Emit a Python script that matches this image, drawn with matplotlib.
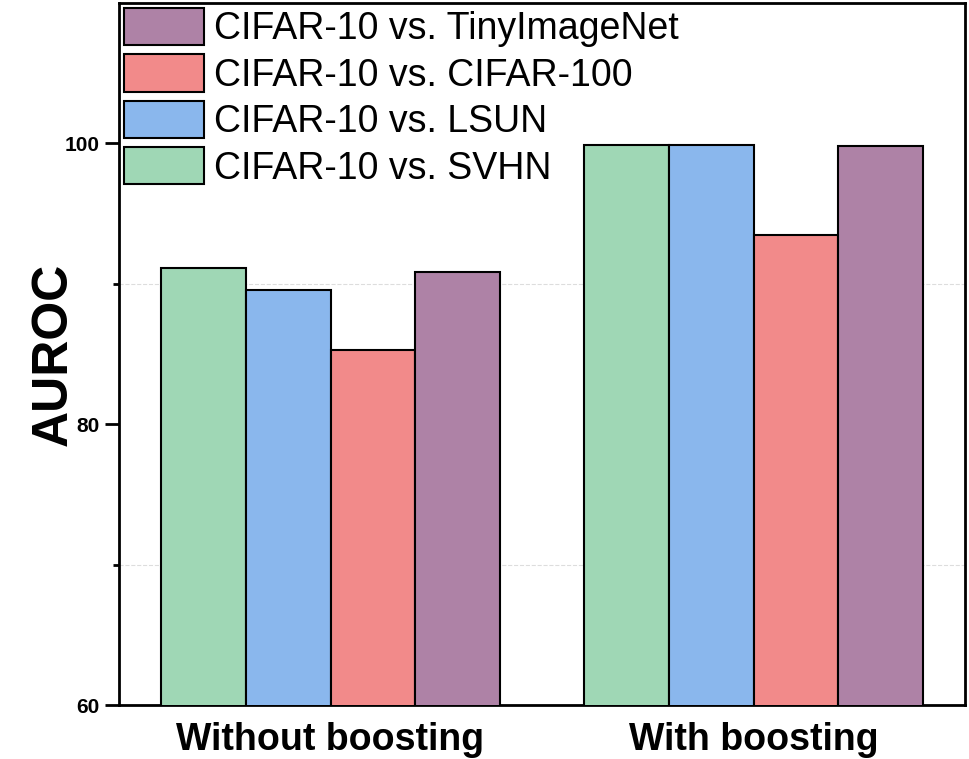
import matplotlib.pyplot as plt
import numpy as np

plt.rcParams['font.family'] = ['Liberation Sans', 'DejaVu Sans']

groups = ['Without boosting', 'With boosting']
series = ['CIFAR-10 vs. SVHN', 'CIFAR-10 vs. LSUN', 'CIFAR-10 vs. CIFAR-100', 'CIFAR-10 vs. TinyImageNet']
svhn = [91.1, 99.9]
lsun = [89.55, 99.9]
cifar100 = [85.3, 93.45]
tiny = [90.85, 99.85]
colors = ['#9fd7b5', '#8ab7ed', '#f28a8a', '#ae82a6']

fig = plt.figure(figsize=(9.69, 7.59), dpi=100)
ax = fig.add_axes([0.1228, 0.0711, 0.8731, 0.9249])

x = np.arange(len(groups))
w = 0.2
handles = []
for i, vals in enumerate([svhn, lsun, cifar100, tiny]):
    b = ax.bar(x + (i - 1.5) * w, vals, w, color=colors[i], edgecolor='black',
               linewidth=1.5, label=series[i], zorder=3)
    handles.append(b)

ax.set_xlim(-0.5, 1.5)
ax.set_ylim(60, 110)
ax.set_yticks([60, 80, 100])
ax.set_yticks([70, 90], minor=True)
ax.grid(axis='y', which='minor', linestyle='--', color='#dddddd', linewidth=0.8, zorder=0)

ax.set_xticks(x)
ax.set_xticklabels(groups, fontsize=27, fontweight='bold')
ax.tick_params(axis='x', length=0, pad=12)
ax.tick_params(axis='y', which='major', length=10, width=2, labelsize=15, pad=4)
ax.tick_params(axis='y', which='minor', length=4.5, width=2)
for lab in ax.get_yticklabels():
    lab.set_fontweight('bold')

ax.set_ylabel('AUROC', fontsize=36, fontweight='bold', labelpad=-9)

for s in ax.spines.values():
    s.set_linewidth(2)

ax.legend(handles[::-1], series[::-1], loc='upper left', frameon=False,
          fontsize=27, handlelength=2.13, handleheight=1.15, handletextpad=0.28,
          labelspacing=0.19, borderaxespad=0.05, borderpad=0.08)

fig.savefig('out.png', dpi=100)
